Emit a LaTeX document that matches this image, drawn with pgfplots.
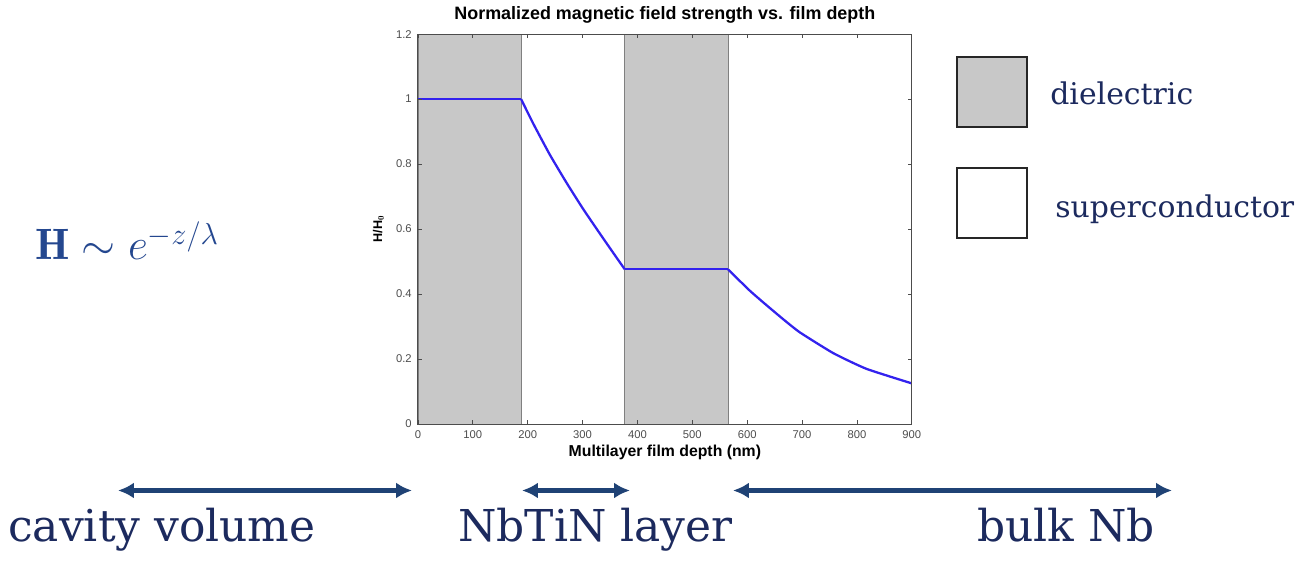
\documentclass[border=0pt]{standalone}
\usepackage{pgfplots}
\pgfplotsset{compat=1.18}
\usepackage{fontspec}
\setsansfont{Liberation Sans}
\newfontfamily\annot{DejaVu Serif}
\usetikzlibrary{arrows.meta}
\definecolor{bandGray}{HTML}{C8C8C8}
\definecolor{bandEdge}{HTML}{808080}
\definecolor{fieldBlue}{HTML}{3322EE}
\definecolor{navy}{HTML}{1C2A5E}
\definecolor{arrowBlue}{HTML}{1F4275}
\definecolor{formulaBlue}{HTML}{24478F}

\begin{document}
\begin{tikzpicture}
% canvas in reference pixels, origin bottom left
\begin{scope}[x=0.02cm,y=0.02cm]
\useasboundingbox (0,0) rectangle (1299,563);
\end{scope}

\begin{axis}[
  at={(8.36cm,2.78cm)}, anchor=south west,
  scale only axis, width=9.88cm, height=7.8cm,
  xmin=0, xmax=900, ymin=0, ymax=1.2,
  xtick={0,100,...,900}, ytick={0,0.2,...,1.2},
  yticklabels={0,0.2,0.4,0.6,0.8,1,1.2},
  tick align=inside, major tick length=0.08cm,
  axis line style={black!70, line width=0.5pt},
  tick style={black!70, line width=0.4pt},
  axis on top,
  font=\sffamily,
  tick label style={font=\sffamily\fontsize{6.4}{7}\selectfont, text=black!70},
  /pgf/number format/assume math mode=true,
  title={\bfseries Normalized magnetic field strength vs. film depth},
  title style={font=\sffamily\fontsize{10.2}{12}\selectfont, yshift=-3.5pt},
  xlabel={\bfseries Multilayer film depth (nm)},
  xlabel style={font=\sffamily\fontsize{9}{10}\selectfont, yshift=3pt},
  ylabel={\bfseries H/H$_{\mathbf 0}$},
  ylabel style={font=\sffamily\fontsize{7.2}{8}\selectfont, yshift=0pt},
  clip=true,
]
% dielectric layers
\addplot[fill=bandGray, draw=bandEdge, line width=0.4pt] coordinates {(0,0) (0,1.2) (188,1.2) (188,0)} -- cycle;
\addplot[fill=bandGray, draw=bandEdge, line width=0.4pt] coordinates {(377,0) (377,1.2) (565,1.2) (565,0)} -- cycle;
% field profile: flat in the dielectrics, decaying in the superconductors
\addplot[fieldBlue, line width=1.3pt] coordinates {(0,1.0) (188,1.0)};
\addplot[fieldBlue, line width=1.3pt, smooth, tension=0.3] coordinates {
  (188,1.0) (210,0.925) (240,0.830) (271,0.742) (301,0.662)
  (332,0.585) (362,0.512) (377,0.476)};
\addplot[fieldBlue, line width=1.3pt] coordinates {(377,0.476) (565,0.476)};
\addplot[fieldBlue, line width=1.3pt, smooth, tension=0.3] coordinates {
  (565,0.476) (605,0.410) (635,0.366) (666,0.322) (696,0.282)
  (757,0.218) (817,0.170) (900,0.125)};
\end{axis}

\begin{scope}[x=0.02cm,y=0.02cm]
% formula
\node[anchor=base west, text=formulaBlue, inner sep=0] at (35,303)
  {\fontsize{25}{30}\selectfont $\mathbf{H}\sim e^{-z/\lambda}$};
% legend boxes
\draw[line width=1.6pt, draw=black!85, fill=bandGray] (957,436) rectangle (1027,506);
\draw[line width=1.6pt, draw=black!85, fill=white] (957,325) rectangle (1027,395);
\node[anchor=base west, inner sep=0, text=navy] at (1050,458)
  {\annot\fontsize{17}{20}\selectfont dielectric};
\node[anchor=base west, inner sep=0, text=navy] at (1055,345)
  {\annot\fontsize{17}{20}\selectfont superconductor};
% region arrows
\draw[arrowBlue, line width=2.3pt, {Latex[length=9pt,width=9pt]}-{Latex[length=9pt,width=9pt]}] (118,72.5) -- (412,72.5);
\draw[arrowBlue, line width=2.3pt, {Latex[length=9pt,width=9pt]}-{Latex[length=9pt,width=9pt]}] (522,72.5) -- (630,72.5);
\draw[arrowBlue, line width=2.3pt, {Latex[length=9pt,width=9pt]}-{Latex[length=9pt,width=9pt]}] (733,72.5) -- (1172,72.5);
% region labels
\node[anchor=base west, inner sep=0, text=navy] at (8,21)
  {\annot\fontsize{25}{30}\selectfont cavity volume};
\node[anchor=base west, inner sep=0, text=navy] at (458,21)
  {\annot\fontsize{25}{30}\selectfont NbTiN layer};
\node[anchor=base west, inner sep=0, text=navy] at (977,21)
  {\annot\fontsize{25}{30}\selectfont bulk Nb};
\end{scope}
\end{tikzpicture}
\end{document}
